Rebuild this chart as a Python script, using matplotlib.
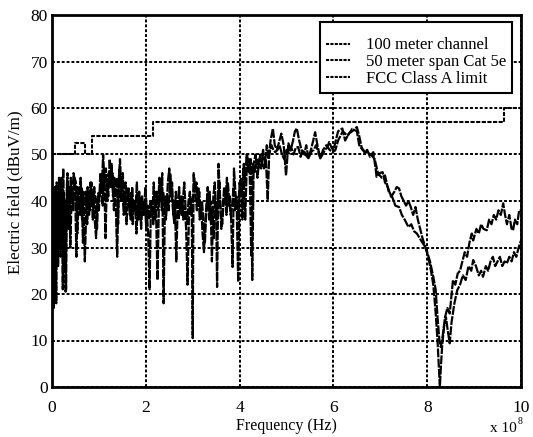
import matplotlib
matplotlib.use("Agg")
import matplotlib.pyplot as plt
import numpy as np

# ---------------- data (frequency in MHz, field in dBuV/m) ----------------
freq_100m = [2,4,6,8,10,12,14,16,18,20,22,24,26,28,30,32,34,36,38,40,43,46,49,52,55,58,61,64,67,70,73,76,79,82,85,88,91,94,97,100,
             103,106,109,112,115,118,121,124,127,130,133,136,139,142,145,148,151,154,157,160,163,166,169,172,175,178,181,184,187,190,193,196,199,202,205,208,
             211,214,217,220,223,226,229,232,235,238,241,244,247,250,253,256,259,262,265,268,271,274,277,280,283,286,289,292,295,298,300,302,305,
             308,311,314,317,320,323,326,329,332,335,338,341,344,347,350,352,355,358,361,364,367,370,373,376,379,382,385,388,391,394,397,400,
             404,408,412,416,420,424,427,430,434,438,442,446,450,454,458,462,466,471,475,480,485,489,494,499,504,509,514,518,522,527,532,538,542,547,552,557,561,566,572,577,582,587,591,596,
             600,605,610,619,625,633,640,650,655,660,666,672,678,685,690,692,698,
             705,710,716,723,730,735,740,745,750,755,760,765,770,775,780,785,790,796,800,806,813,818,822,826,829,833,838,843,848,
             855,860,865,870,875,880,885,890,895,898,905,910,915,920,927,932,937,942,947,952,957,962,966,970,975,980,983,987,992,996,1000]
field_100m = [38,17,43,24,44,30,36,42,28,45,33,47,25,40,21,44,35,42,38,45,40,46,44,28,43,39,45,36,42,27,38,43,37,44,39,42,36,32,41,38,
              46,42,50,44,47,40,46,43,48,41,45,39,28,44,49,42,46,38,44,40,43,37,42,35,40,38,44,36,41,34,40,37,43,38,33,21,
              40,37,44,36,42,38,45,40,46,18,41,38,44,47,41,44,37,40,27,39,43,38,41,36,39,34,22,37,41,38,10.5,46,42,
              44,39,42,37,40,35,31,38,43,36,40,27,41,44,38,21.5,48,41,34,38,43,40,45,39,41,36,25.8,47,42,38,22.6,44,
              41,47,36,50,46,49,23,48,50,45,49,47,51,48,52,49,53,55.6,52,51,53,54.5,52,45.5,52.4,51,53,55,55.6,53,51,50,52,49.2,51,53,54.8,52,49.2,50,51,51.5,52.7,51.5,
              50.9,53,55,55.6,53,54.5,55,55.9,54,51.6,50.5,51,49.5,50.5,47,45.2,46,
              46.2,44,43,40.9,42,43,42.7,41,40,39,40,38.7,37,38.7,36,34,32,30.1,29,27,23.7,21,15,10,8.6,11,15,17,15.8,
              23,22,24.4,25,27,29,28,31,33,31.5,34,33,35,34,33.7,36,35,37,36,38,37,39.5,37,35,37,34,33.7,36,35,38,38]

freq_50m = [1,3,5,7,9,11,13,15,17,19,21,23,25,27,29,31,33,35,37,39,42,45,48,51,54,57,60,63,66,69,72,75,78,81,84,87,90,93,96,99,
            102,105,108,111,114,117,120,123,126,129,132,135,138,141,144,147,150,153,156,159,162,165,168,171,174,177,180,183,186,189,192,195,198,201,204,207,
            210,213,216,219,222,225,228,231,234,237,240,243,246,249,252,255,258,261,264,267,270,273,276,279,282,285,288,291,294,297,300,303,
            306,309,312,315,318,321,324,327,330,333,336,339,342,345,348,351,354,357,360,363,366,369,372,375,378,381,384,387,390,393,396,399,
            403,406,409,412,415,418,421,425,428,432,436,440,444,448,452,456,460,463,468,472,476,480,485,490,495,500,505,510,515,520,525,530,535,540,547,552,558,563,568,572,578,585,592,598,
            604,610,620,630,640,650,655,662,670,680,688,695,
            703,710,718,725,732,740,746,752,760,766,772,778,784,790,796,802,808,813,818,822,825,827,829,832,836,840,844,848,
            852,858,864,870,876,882,888,894,898,904,910,915,919,925,930,935,940,945,950,955,960,965,970,975,980,985,990,995,1000]
field_50m = [30,42,22,40,18,41,26,45,30,38,44,21,42,36,20.5,40,46,34,43,30,42,38,45,44,33,41,37,43,31,40,42,35,41,38,44,36,43,39,34,42,
             41,45,39,47,32,44,41,49,43,46,38,42,45,35,47,40,43,37,41,35,42,39,36,43,38,40,33,39,42,36,41,37,40,34,39,36,
             40,38,35,42,37,23,40,45,38,42,39,36,41,38,46,42,38,35,42,39,36,41,37,40,44,38,35,40,42,37,39,45,
             41,38,43,36,39,33,29,36,40,38,42,35,38,32,40,36,40,44,37,35,40,42,37,44,40,37,39,43,38,41,36,42,
             45,36,48,44,50,47,49,28,48,46,49,47,50,48,47,49,40.2,50,52,51,50.5,50.9,52,50.2,49,51,50.2,51.6,50,51.5,51.6,49.5,51,50,49.2,50.5,51,52,50.5,49.2,51,52,51,50.5,
             50.9,53,55,54,55.5,55,52,51,50.5,50,49,46,
             45,45.5,42,41,39,38.7,37,36,34.4,35,33.5,33,32,31,30.1,28,25,22,16,10,4,0,4,9,13,15,12,9.4,
             14,18,20.8,22,24,23,26,25,27.3,26,24,25,23.7,26,25,27,28,26,27,28,26,27,26.6,28,27,29,28,30,31.5]

limit_freq = [0, 49, 49, 71, 71, 86, 86, 216, 216, 963, 963, 1000]
limit_level = [50, 50, 52.5, 52.5, 50, 50, 54, 54, 56.9, 56.9, 60, 60]

series_labels = ["100 meter channel", "50 meter span Cat 5e", "FCC Class A limit"]
x_ticks = [0, 2, 4, 6, 8, 10]
y_ticks = [0, 10, 20, 30, 40, 50, 60, 70, 80]

# ---------------- figure ----------------
plt.rcParams['font.family'] = ['Liberation Serif', 'DejaVu Serif']
fig = plt.figure(figsize=(5.33, 4.37), dpi=100)
ax = fig.add_axes([52/533, 1-387/437, 469/533, 372/437])

scale = 100.0  # MHz -> units of 1e8 Hz
ls = (0, (4, 0.6))
ax.plot(np.array(freq_100m)/scale, field_100m, color='black', lw=1.6, ls=ls, label=series_labels[0])
ax.plot(np.array(freq_50m)/scale, field_50m, color='black', lw=1.6, ls=ls, label=series_labels[1])
ax.plot(np.array(limit_freq)/scale, limit_level, color='black', lw=1.5, ls=(0, (2, 0.7)), label=series_labels[2])

ax.set_xlim(0, 10)
ax.set_ylim(0, 80)
ax.set_xticks(x_ticks)
ax.set_yticks(y_ticks)
ax.set_xticklabels([str(t) for t in x_ticks])
ax.set_yticklabels([str(t) for t in y_ticks])
ax.tick_params(length=0, labelsize=12.5)
ax.tick_params(axis='x', pad=9)
ax.tick_params(axis='y', pad=3)
ax.grid(True, color='black', linestyle=(0, (1.5, 1.0)), linewidth=1.4)
for s in ax.spines.values():
    s.set_linewidth(2)
    s.set_color('black')

ax.set_xlabel("Frequency (Hz)", fontsize=11.5, labelpad=2)
ax.set_ylabel("Electric field (dBuV/m)", fontsize=12.3, labelpad=5)
ax.yaxis.set_label_coords(-0.062, 0.524)

leg = ax.legend(loc='upper right', bbox_to_anchor=(0.981, 0.982), borderaxespad=0,
                fontsize=12, frameon=True, fancybox=False, framealpha=1,
                edgecolor='black', handlelength=1.45, handletextpad=0.95,
                labelspacing=0.05, borderpad=0.35, title=" ", title_fontsize=8)
leg.get_frame().set_linewidth(1.5)
for h in leg.get_lines():
    h.set_linestyle((0, (1.5, 0.6)))
    h.set_linewidth(1.5)

fig.text(517/533, 1-428/437, "x 10", fontsize=11, ha='right', va='center')
fig.text(518/533, 1-421/437, "8", fontsize=7, ha='left', va='center')

fig.savefig("out.png", dpi=100)
